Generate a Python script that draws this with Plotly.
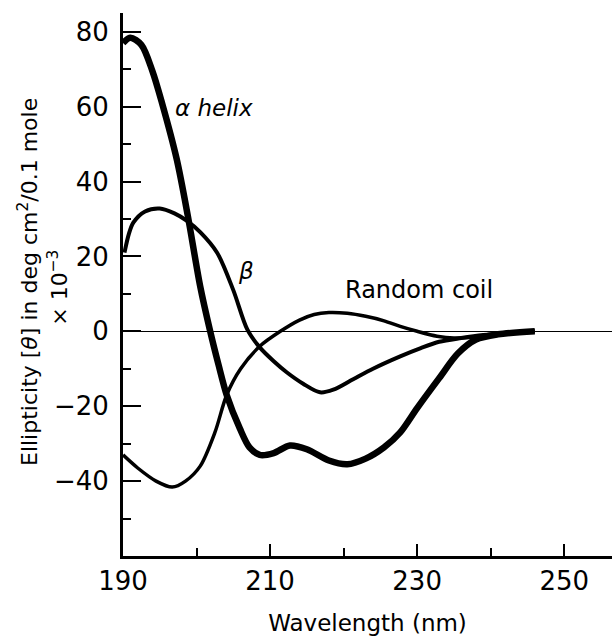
import plotly.graph_objects as go

# Circular dichroism spectra of polypeptide conformations
# wavelength in nm, ellipticity in deg cm^2 / 0.1 mole (x 10^-3)
helix_nm = [190, 191, 192.5, 194, 195.3, 197.3, 198.8, 200.5, 201.8, 203, 204.1,
            205.9, 207.2, 208.6, 210.5, 212.7, 215, 218, 220.5, 223, 225.5,
            227.7, 230, 233, 235.5, 238, 241, 246]
helix_val = [77, 78.4, 76.5, 69.5, 61, 46, 31, 12, 0.5, -9, -17,
             -26, -31, -33, -32.5, -30.5, -31.5, -34.5, -35.5, -34, -31,
             -27, -20.5, -12.5, -6, -2.2, -0.8, 0]

beta_nm = [190.2, 190.8, 191.4, 193, 195, 197, 198.7, 200.5, 202.8, 205,
           206.9, 208.6, 210.5, 212.3, 214.5, 216.8, 218.6, 221.3, 224,
           227.7, 230.5, 233, 236, 239, 242, 246]
beta_val = [21, 26, 29, 32, 32.8, 31.5, 29.5, 26.5, 21, 11,
            0.5, -4.3, -8, -11, -14, -16.3, -15.6, -12.8, -10,
            -6.7, -4.5, -2.8, -1.8, -1, -0.5, 0]

coil_nm = [190, 192, 194.5, 196.7, 198.5, 200.5, 202.5, 204.1, 206, 208.6,
           211.4, 214, 216, 218, 220.5, 223, 225.5, 227.7, 230, 232.7, 235,
           238, 241, 246]
coil_val = [-33, -36.5, -40, -41.6, -40, -36, -27, -17, -10, -4,
            0, 3, 4.5, 5, 4.8, 4, 2.8, 1.3, 0, -1.3, -1.8,
            -1.5, -0.8, 0]

x_ticks = [190, 210, 230, 250]
y_ticks = [-40, -20, 0, 20, 40, 60, 80]

FONT = "DejaVu Sans"

fig = go.Figure()
fig.add_trace(go.Scatter(x=coil_nm, y=coil_val, mode="lines",
                         line=dict(color="black", width=3.5, shape="spline", smoothing=0.85)))
fig.add_trace(go.Scatter(x=beta_nm, y=beta_val, mode="lines",
                         line=dict(color="black", width=4, shape="spline", smoothing=0.85)))
fig.add_trace(go.Scatter(x=helix_nm, y=helix_val, mode="lines",
                         line=dict(color="black", width=6.5, shape="spline", smoothing=0.85)))

# curve labels
fig.add_annotation(x=196.8, y=59.5, text="<i>α helix</i>", showarrow=False,
                   xanchor="left", yanchor="middle", font=dict(size=23, family=FONT, color="black"))
fig.add_annotation(x=205.3, y=16, text="<i>β</i>", showarrow=False,
                   xanchor="left", yanchor="middle", font=dict(size=23, family=FONT, color="black"))
fig.add_annotation(x=219.9, y=11, text="Random coil", showarrow=False,
                   xanchor="left", yanchor="middle", font=dict(size=24, family=FONT, color="black"))

# y-axis title, two rotated lines
fig.add_annotation(x=0, y=0.5046, xref="paper", yref="paper", xshift=-95,
                   text="Ellipticity [<i>θ</i>] in deg cm<sup>2</sup>/0.1 mole",
                   textangle=-90, showarrow=False, xanchor="center", yanchor="middle",
                   font=dict(size=22, family=FONT, color="black"))
fig.add_annotation(x=0, y=0.494, xref="paper", yref="paper", xshift=-65,
                   text="× 10<sup>−3</sup>",
                   textangle=-90, showarrow=False, xanchor="center", yanchor="middle",
                   font=dict(size=22, family=FONT, color="black"))

fig.update_layout(
    width=612, height=638,
    margin=dict(l=123, r=0, t=13, b=82),
    paper_bgcolor="white", plot_bgcolor="white",
    showlegend=False,
    font=dict(family=FONT, color="black"),
)
fig.update_xaxes(
    range=[190, 256.5], tickvals=x_ticks, ticks="inside", ticklen=12, tickwidth=2,
    tickcolor="black", showline=True, linecolor="black", linewidth=2.5,
    showgrid=False, zeroline=False, tickfont=dict(size=26, family=FONT),
    minor=dict(tickvals=[200, 220, 240], ticks="inside", ticklen=8, tickwidth=2, tickcolor="black"),
    title=dict(text="Wavelength (nm)", font=dict(size=23, family=FONT), standoff=20),
)
fig.update_yaxes(
    range=[-60, 85], tickvals=y_ticks, ticks="inside", ticklen=18, tickwidth=1.5,
    tickcolor="black", showline=True, linecolor="black", linewidth=3,
    showgrid=False, zeroline=True, zerolinecolor="black", zerolinewidth=1.2,
    tickfont=dict(size=26, family=FONT), ticklabelstandoff=6,
    minor=dict(tickvals=[-50, -30, -10, 10, 30, 50, 70], ticks="inside", ticklen=8,
               tickwidth=1.5, tickcolor="black"),
)

fig.write_html("out.html")
